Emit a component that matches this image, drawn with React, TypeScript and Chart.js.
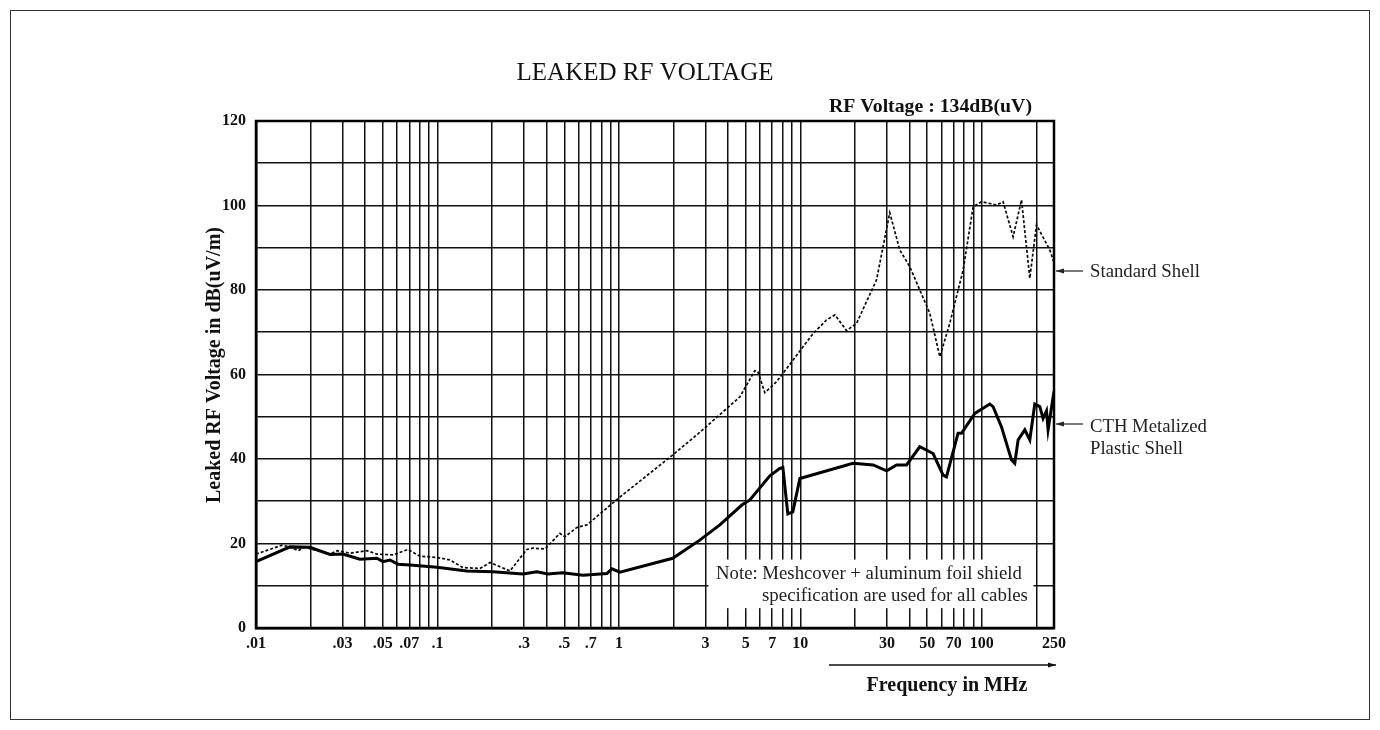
import React, { useEffect, useRef } from 'react';
import { Chart, registerables } from 'chart.js';

Chart.register(...registerables);

// ---- Data (frequency in MHz, level in dB(uV/m)) ----
const standardFreq = [
  0.01, 0.0139, 0.0154, 0.017, 0.0186, 0.0256, 0.028, 0.033, 0.0409, 0.0464,
  0.0569, 0.0688, 0.08, 0.0994, 0.117, 0.138, 0.1715, 0.195, 0.251, 0.311,
  0.336, 0.391, 0.473, 0.504, 0.587, 0.666, 1.0, 1.96, 2.79, 4.64,
  5.61, 5.83, 6.37, 7.4, 11.76, 13.94, 15.5, 17.97, 20.4, 26.3,
  31.1, 35.3, 40.1, 51.7, 58.7, 66.6, 78.9, 89.6, 99.6, 120.5,
  131, 148.8, 165.5, 183.9, 200.2, 237, 250,
];
const standardDb = [
  17.5, 19.6, 19.2, 18.3, 19.1, 17.5, 18.3, 17.7, 18.3, 17.5,
  17.3, 18.6, 17.0, 16.7, 16.1, 14.3, 14.1, 15.5, 13.5, 18.6,
  18.9, 18.7, 22.4, 21.6, 23.8, 24.4, 30.8, 40.8, 46.3, 54.7,
  60.9, 60.7, 55.7, 58.3, 69.7, 72.9, 74.1, 70.4, 72.1, 82.4,
  98.3, 89.5, 85.5, 74.5, 64.2, 72.1, 84.7, 99.7, 100.9, 100.1,
  100.9, 92.6, 101.3, 82.8, 95.4, 89.5, 86.5,
];

const cthFreq = [
  0.01, 0.0154, 0.0198, 0.0256, 0.0301, 0.0374, 0.0464, 0.0501, 0.0547, 0.0606,
  0.0705, 0.0994, 0.145, 0.202, 0.296, 0.353, 0.406, 0.491, 0.633, 0.859,
  0.915, 1.013, 1.98, 2.79, 3.6, 4.76, 5.27, 6.79, 7.71, 8.01,
  8.53, 9.09, 9.94, 19.5, 25.2, 29.9, 33.9, 38.5, 45.5, 53.9,
  61.2, 63.9, 74.0, 77.3, 91.5, 110.7, 115.4, 128.4, 145.8, 152,
  158.5, 172.6, 183.9, 195.9, 208.7, 217.7, 227.3, 231.9, 250,
];
const cthDb = [
  15.7, 19.2, 19.1, 17.4, 17.5, 16.3, 16.5, 15.7, 16.1, 15.1,
  14.9, 14.4, 13.5, 13.3, 12.8, 13.3, 12.8, 13.1, 12.5, 12.9,
  14.0, 13.2, 16.5, 20.8, 24.4, 29.1, 30.3, 36.0, 37.8, 38.0,
  27.0, 27.5, 35.4, 39.0, 38.6, 37.2, 38.6, 38.6, 42.9, 41.3,
  36.2, 35.8, 46.1, 46.1, 50.8, 53.0, 52.4, 47.6, 39.8, 39.0,
  44.5, 46.9, 44.5, 53.0, 52.4, 49.6, 51.4, 46.9, 56.0,
];

// ---- Axes ----
const xGridValues = [
  0.01, 0.02, 0.03, 0.04, 0.05, 0.06, 0.07, 0.08, 0.09,
  0.1, 0.2, 0.3, 0.4, 0.5, 0.6, 0.7, 0.8, 0.9,
  1, 2, 3, 4, 5, 6, 7, 8, 9,
  10, 20, 30, 40, 50, 60, 70, 80, 90,
  100, 200, 250,
];
const xGridLabels = [
  '.01', '', '.03', '', '.05', '', '.07', '', '',
  '.1', '', '.3', '', '.5', '', '.7', '', '',
  '1', '', '3', '', '5', '', '7', '', '',
  '10', '', '30', '', '50', '', '70', '', '',
  '100', '', '250',
];
const yGridValues = [0, 10, 20, 30, 40, 50, 60, 70, 80, 90, 100, 110, 120];
const yGridLabels = ['0', '', '20', '', '40', '', '60', '', '80', '', '100', '', '120'];

const titleText = 'LEAKED RF VOLTAGE';
const subtitleText = 'RF Voltage : 134dB(uV)';
const yTitleText = 'Leaked RF Voltage in dB(uV/m)';
const xTitleText = 'Frequency in MHz';
const standardLabel = ['Standard Shell'];
const cthLabel = ['CTH Metalized', 'Plastic Shell'];
const noteLines = ['Note: Meshcover + aluminum foil shield', 'specification are used for all cables'];

const SERIF = '"Liberation Serif", "Times New Roman", serif';

function fitFont(ctx: CanvasRenderingContext2D, text: string, weight: string, base: number, target: number) {
  ctx.font = `${weight} ${base}px ${SERIF}`;
  const w = ctx.measureText(text).width;
  let size = base * (target / w);
  size = Math.max(base * 0.8, Math.min(base * 1.25, size));
  ctx.font = `${weight} ${size.toFixed(2)}px ${SERIF}`;
}

function arrow(ctx: CanvasRenderingContext2D, x1: number, y: number, x2: number) {
  ctx.beginPath();
  ctx.moveTo(x1, y);
  ctx.lineTo(x2, y);
  ctx.stroke();
  const dir = x2 > x1 ? 1 : -1;
  ctx.beginPath();
  ctx.moveTo(x2, y);
  ctx.lineTo(x2 - dir * 8, y - 2.5);
  ctx.lineTo(x2 - dir * 8, y + 2.5);
  ctx.closePath();
  ctx.fill();
}

const bgPlugin = {
  id: 'bg',
  beforeDraw(chart: any) {
    const ctx = chart.ctx;
    ctx.save();
    ctx.fillStyle = '#fff';
    ctx.fillRect(0, 0, chart.width, chart.height);
    ctx.restore();
  },
};

const decorPlugin = {
  id: 'decor',
  afterDraw(chart: any) {
    const ctx: CanvasRenderingContext2D = chart.ctx;
    const a = chart.chartArea;
    const xs = chart.scales.x;
    const ys = chart.scales.y;
    ctx.save();

    // outer frame
    ctx.strokeStyle = '#333';
    ctx.lineWidth = 1;
    ctx.strokeRect(10.5, 10.5, 1359, 709);

    // plot frame
    ctx.strokeStyle = '#000';
    ctx.lineWidth = 2.5;
    ctx.strokeRect(a.left, a.top, a.right - a.left, a.bottom - a.top);

    // note box
    const bx1 = xs.getPixelForValue(3) + 3;
    const bx2 = xs.getPixelForValue(200) - 3;
    const by1 = ys.getPixelForValue(16.2);
    const by2 = ys.getPixelForValue(4.7);
    ctx.fillStyle = '#fff';
    ctx.fillRect(bx1, by1, bx2 - bx1, by2 - by1);

    ctx.fillStyle = '#222';
    ctx.textBaseline = 'middle';
    ctx.textAlign = 'left';
    fitFont(ctx, noteLines[0], 'normal', 16, 306);
    ctx.fillText(noteLines[0], 716, 574);
    fitFont(ctx, noteLines[1], 'normal', 16, 266);
    ctx.fillText(noteLines[1], 762, 596);

    // title
    ctx.fillStyle = '#111';
    ctx.textAlign = 'center';
    fitFont(ctx, titleText, 'normal', 22, 257);
    ctx.fillText(titleText, 645, 73);

    // subtitle
    ctx.textAlign = 'left';
    fitFont(ctx, subtitleText, 'bold', 16, 203);
    ctx.fillText(subtitleText, 829, 107);

    // y title
    ctx.save();
    ctx.translate(215, 365);
    ctx.rotate(-Math.PI / 2);
    ctx.textAlign = 'center';
    fitFont(ctx, yTitleText, 'bold', 16, 325);
    ctx.fillText(yTitleText, 0, 0);
    ctx.restore();

    // x arrow + title
    ctx.strokeStyle = '#111';
    ctx.fillStyle = '#111';
    ctx.lineWidth = 1.3;
    arrow(ctx, 829, 665, 1056);
    ctx.textAlign = 'center';
    fitFont(ctx, xTitleText, 'bold', 18, 161);
    ctx.fillText(xTitleText, 947, 686);

    // right annotations
    ctx.lineWidth = 1.2;
    ctx.strokeStyle = '#222';
    ctx.fillStyle = '#222';
    arrow(ctx, 1083, 271, a.right + 2);
    arrow(ctx, 1083, 424, a.right + 2);
    ctx.textAlign = 'left';
    fitFont(ctx, standardLabel[0], 'normal', 15, 112);
    ctx.fillText(standardLabel[0], 1090, 272);
    fitFont(ctx, cthLabel[0], 'normal', 15, 117);
    ctx.fillText(cthLabel[0], 1090, 427);
    ctx.fillText(cthLabel[1], 1090, 449);

    ctx.restore();
  },
};

export default function App() {
  const ref = useRef<HTMLCanvasElement | null>(null);

  useEffect(() => {
    const canvas = ref.current;
    if (!canvas) return;
    const chart = new Chart(canvas, {
      type: 'line',
      data: {
        datasets: [
          {
            label: 'Standard Shell',
            data: standardFreq.map((f, i) => ({ x: f, y: standardDb[i] })),
            borderColor: '#0a0a0a',
            borderWidth: 1.7,
            borderDash: [3, 2],
            pointRadius: 0,
            tension: 0,
            fill: false,
          },
          {
            label: 'CTH Metalized Plastic Shell',
            data: cthFreq.map((f, i) => ({ x: f, y: cthDb[i] })),
            borderColor: '#000',
            borderWidth: 3,
            pointRadius: 0,
            tension: 0,
            fill: false,
          },
        ],
      },
      options: {
        responsive: false,
        animation: false,
        devicePixelRatio: 1,
        layout: { padding: { left: 200, right: 326, top: 121, bottom: 62 } },
        plugins: {
          legend: { display: false },
          tooltip: { enabled: false },
          title: { display: false },
        },
        scales: {
          x: {
            type: 'logarithmic',
            min: 0.01,
            max: 250,
            afterBuildTicks: (s: any) => {
              s.ticks = xGridValues.map((v) => ({ value: v }));
            },
            afterFit: (s: any) => {
              s.height = 40;
            },
            ticks: {
              autoSkip: false,
              maxRotation: 0,
              minRotation: 0,
              padding: 6,
              color: '#111',
              font: { family: SERIF, size: 16, weight: 'bold' },
              callback: (_v: any, i: number) => xGridLabels[i],
            },
            grid: { color: '#111', lineWidth: 1.5, drawTicks: false },
            border: { display: true, color: '#000', width: 2.5 },
          },
          y: {
            type: 'linear',
            min: 0,
            max: 120,
            afterBuildTicks: (s: any) => {
              s.ticks = yGridValues.map((v) => ({ value: v }));
            },
            afterFit: (s: any) => {
              s.width = 56;
            },
            ticks: {
              autoSkip: false,
              padding: 10,
              color: '#111',
              font: { family: SERIF, size: 16, weight: 'bold' },
              callback: (_v: any, i: number) => yGridLabels[i],
            },
            grid: { color: '#111', lineWidth: 1.6, drawTicks: false },
            border: { display: true, color: '#000', width: 2.5 },
          },
        },
      } as any,
      plugins: [bgPlugin, decorPlugin],
    });
    return () => chart.destroy();
  }, []);

  return (
    <div style={{ position: 'fixed', left: 0, top: 0, width: 1380, height: 730, background: '#fff' }}>
      <canvas ref={ref} width={1380} height={730} style={{ display: 'block', width: 1380, height: 730 }} />
    </div>
  );
}
